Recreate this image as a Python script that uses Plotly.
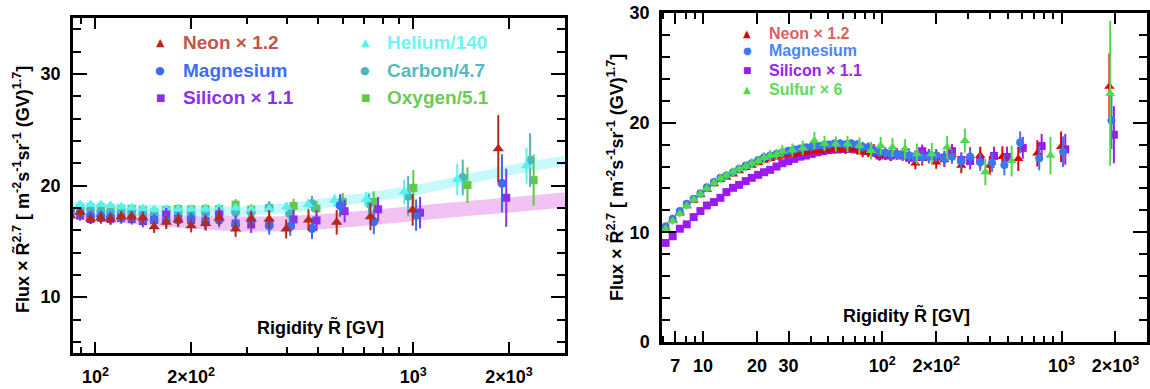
import plotly.graph_objects as go

# ---------------- data ----------------
# common rigidity bins (GV) for Ne / Mg / Si up to 352 GV
rig_common = [6.18, 6.77, 7.42, 8.11, 8.86, 9.67, 10.5, 11.5, 12.5, 13.5,
              14.7, 15.9, 17.3, 18.7, 20.3, 21.9, 23.7, 25.7, 27.7, 29.9,
              32.3, 34.8, 37.5, 40.4, 43.5, 46.8, 50.3, 54.1, 58.2, 62.5,
              67.2, 72.3, 77.7, 83.4, 89.5, 96.5, 104, 111.5, 120.5, 130,
              141, 153, 167, 182, 200, 222, 245, 276, 309, 352]
rig_ne_high = [398, 468, 574, 733, 995, 1850]
rig_mg_high = [410, 480, 588, 751, 1020, 1900]
rig_si_high = [420, 496, 608, 775, 1050, 1960]

neon = [10.4, 11.1, 11.8, 12.4, 12.9, 13.4, 13.9, 14.4, 14.8, 15.0,
        15.3, 15.6, 15.9, 16.1, 16.35, 16.55, 16.7, 16.85, 17.0, 17.1,
        17.15, 17.25, 17.3, 17.4, 17.45, 17.5, 17.55, 17.6, 17.6, 17.55,
        17.6, 17.5, 17.3, 17.3, 17.6, 17.0, 17.1, 17.0, 17.2, 17.2,
        17.1, 16.3, 16.7, 16.9, 16.4, 16.6, 17.1, 16.1, 17.0, 17.0,
        16.1, 16.9, 16.7, 17.2, 17.8, 23.3]
neon_err = [0.2, 0.2, 0.2, 0.2, 0.2, 0.2, 0.2, 0.2, 0.2, 0.2,
            0.2, 0.2, 0.25, 0.25, 0.25, 0.25, 0.25, 0.25, 0.3, 0.3,
            0.3, 0.3, 0.3, 0.3, 0.35, 0.35, 0.35, 0.35, 0.4, 0.4,
            0.4, 0.4, 0.45, 0.45, 0.45, 0.45, 0.5, 0.5, 0.5, 0.5,
            0.55, 0.55, 0.6, 0.6, 0.6, 0.65, 0.65, 0.7, 0.75, 0.8,
            0.85, 0.95, 1.1, 1.2, 1.4, 3.0]

magnesium = [10.55, 11.24, 11.94, 12.6, 13.06, 13.57, 14.12, 14.58, 14.97, 15.18,
             15.48, 15.79, 16.1, 16.3, 16.6, 16.85, 17.0, 17.15, 17.3, 17.45,
             17.55, 17.65, 17.75, 17.8, 17.9, 17.95, 18.0, 18.1, 18.1, 18.0,
             18.1, 18.0, 17.8, 17.75, 17.5, 17.3, 17.25, 17.15, 17.1, 17.1,
             17.0, 16.9, 16.85, 16.9, 17.0, 16.7, 16.9, 16.5, 16.9, 16.4,
             16.35, 16.15, 18.2, 16.75, 17.35, 20.2]
magnesium_err = [0.2, 0.2, 0.2, 0.2, 0.2, 0.2, 0.2, 0.2, 0.2, 0.2,
                 0.2, 0.2, 0.25, 0.25, 0.25, 0.25, 0.25, 0.25, 0.3, 0.3,
                 0.3, 0.3, 0.3, 0.3, 0.35, 0.35, 0.35, 0.35, 0.4, 0.4,
                 0.4, 0.4, 0.45, 0.45, 0.45, 0.45, 0.5, 0.5, 0.5, 0.5,
                 0.55, 0.55, 0.6, 0.6, 0.6, 0.65, 0.65, 0.7, 0.75, 0.8,
                 0.85, 0.95, 1.0, 1.1, 1.4, 2.6]

silicon = [9.03, 9.64, 10.33, 10.73, 11.39, 11.94, 12.45, 12.76, 13.15, 13.67,
           14.06, 14.33, 14.67, 14.97, 15.24, 15.48, 15.7, 16.0, 16.3, 16.48,
           16.7, 16.9, 17.0, 17.15, 17.3, 17.4, 17.5, 17.55, 17.6, 17.6,
           17.65, 17.55, 17.5, 17.4, 17.3, 17.0, 17.1, 17.0, 17.1, 17.0,
           16.8, 16.9, 17.4, 17.0, 16.9, 16.8, 17.4, 16.6, 16.5, 16.6,
           16.96, 16.87, 17.7, 17.87, 17.57, 18.9]
silicon_err = [0.2, 0.2, 0.2, 0.2, 0.2, 0.2, 0.2, 0.2, 0.2, 0.2,
               0.2, 0.2, 0.25, 0.25, 0.25, 0.25, 0.25, 0.25, 0.3, 0.3,
               0.3, 0.3, 0.3, 0.3, 0.35, 0.35, 0.35, 0.35, 0.4, 0.4,
               0.4, 0.4, 0.45, 0.45, 0.45, 0.45, 0.5, 0.5, 0.5, 0.5,
               0.55, 0.55, 0.6, 0.6, 0.6, 0.65, 0.65, 0.7, 0.75, 0.8,
               0.85, 0.95, 1.0, 1.1, 1.4, 2.6]

# sulfur (coarser binning above ~30 GV)
rig_sulfur = [6.18, 6.77, 7.42, 8.11, 8.86, 9.67, 10.5, 11.5, 12.5, 13.5,
              14.7, 15.9, 17.3, 18.7, 20.3, 21.9, 23.7, 25.7, 27.7, 31.5,
              36, 41.8, 47.6, 55, 64, 74.6, 86.5, 98, 114, 134,
              156, 189, 230, 289, 376, 527, 868, 1870]
sulfur = [10.3, 11.0, 11.7, 12.4, 13.0, 13.5, 14.0, 14.5, 14.9, 15.2,
          15.5, 15.8, 16.0, 16.3, 16.5, 16.8, 17.0, 17.1, 17.4, 17.5,
          17.7, 18.36, 18.1, 18.05, 18.05, 17.9, 17.45, 17.9, 17.75, 17.6,
          17.15, 17.15, 17.75, 18.36, 15.5, 16.5, 17.0, 22.67]
sulfur_err = [0.3, 0.3, 0.3, 0.3, 0.35, 0.35, 0.35, 0.35, 0.4, 0.4,
              0.4, 0.4, 0.45, 0.45, 0.45, 0.5, 0.5, 0.5, 0.55, 0.6,
              0.65, 0.8, 0.7, 0.7, 0.75, 0.75, 0.8, 0.8, 0.85, 0.9,
              0.95, 1.0, 1.05, 1.1, 1.2, 1.4, 1.7, 6.6]

# helium / carbon / oxygen (left panel only)
rig_heco_low = [89.5, 96.5, 104, 111.5, 120.5, 130, 141, 153, 167, 182,
                200, 222, 245, 276, 309, 352]
rig_he_high = [399, 467, 565, 711, 936, 1375, 2270]
rig_c_high = [408, 480, 590, 725, 963, 1430, 2330]
rig_o_high = [420, 496, 600, 750, 1000, 1480, 2390]

helium = [18.3, 18.3, 18.3, 18.2, 18.1, 18.0, 17.95, 17.85, 17.9, 17.9,
          17.9, 17.9, 18.0, 18.0, 17.84, 17.9, 18.08, 18.29, 18.68, 18.77,
          19.43, 20.54, 21.77]
helium_err = [0.2, 0.2, 0.2, 0.2, 0.2, 0.2, 0.2, 0.25, 0.25, 0.25,
              0.25, 0.3, 0.3, 0.3, 0.35, 0.4, 0.45, 0.5, 0.55, 0.65,
              1.1, 1.4, 1.6]
carbon = [17.9, 17.8, 17.7, 17.6, 17.6, 17.6, 17.5, 17.4, 17.5, 17.5,
          17.4, 17.5, 17.5, 17.6, 17.6, 18.0, 17.48, 18.38, 18.44, 18.38,
          19.04, 20.72, 22.27]
carbon_err = [0.3, 0.3, 0.3, 0.3, 0.3, 0.35, 0.35, 0.35, 0.4, 0.4,
              0.4, 0.45, 0.45, 0.5, 0.5, 0.55, 0.6, 0.7, 0.8, 0.9,
              1.8, 1.6, 2.4]
oxygen = [18.0, 18.0, 18.0, 17.9, 17.9, 17.9, 17.8, 17.6, 17.8, 17.9,
          17.87, 17.9, 17.9, 18.29, 17.84, 17.99, 18.17, 17.93, 18.53, 18.53,
          19.79, 20.03, 20.48]
oxygen_err = [0.3, 0.3, 0.3, 0.3, 0.3, 0.35, 0.35, 0.35, 0.4, 0.4,
              0.4, 0.45, 0.45, 0.5, 0.5, 0.6, 0.65, 0.7, 0.8, 0.95,
              1.6, 1.6, 2.3]

# fitted bands (left panel)
fit_rig = [85, 120, 170, 250, 300, 400, 600, 1000, 1500, 2000, 3000]
fit_he = [18.1, 17.95, 17.8, 17.7, 17.75, 18.0, 18.65, 19.55, 20.6, 21.35, 22.25]
fit_nemgsi = [17.7, 17.3, 16.95, 16.65, 16.55, 16.6, 16.9, 17.5, 17.95, 18.25, 18.7]

# tick labels
left_xticks = [100, 200, 1000, 2000]
left_xlabels = ["10<sup>2</sup>", "2×10<sup>2</sup>", "10<sup>3</sup>", "2×10<sup>3</sup>"]
left_xminor = [90, 300, 400, 500, 600, 700, 800, 900, 3000]
right_xticks = [7, 10, 20, 30, 100, 200, 1000, 2000]
right_xlabels = ["7", "10", "20", "30", "10<sup>2</sup>", "2×10<sup>2</sup>",
                 "10<sup>3</sup>", "2×10<sup>3</sup>"]
right_xminor = [6, 8, 9, 40, 50, 60, 70, 80, 90, 300, 400, 500, 600, 700, 800, 900, 3000]

# ---------------- figure ----------------
FONT = "Liberation Sans, Arial, Helvetica, sans-serif"
W, H = 1150, 389

rig_ne = rig_common + rig_ne_high
rig_mg = rig_common + rig_mg_high
rig_si = rig_common + rig_si_high
rig_he = rig_heco_low + rig_he_high
rig_c = rig_heco_low + rig_c_high
rig_o = rig_heco_low + rig_o_high

fig = go.Figure()


def pts(x, y, err, color, symbol, size, xa, ya):
    return go.Scatter(
        x=x, y=y, mode="markers", xaxis=xa, yaxis=ya, showlegend=False,
        marker=dict(color=color, symbol=symbol, size=size, line=dict(width=0)),
        error_y=dict(type="data", array=err, width=0, thickness=2, color=color),
        hoverinfo="skip",
    )


# left panel: bands
fig.add_trace(go.Scatter(x=fit_rig, y=fit_nemgsi, mode="lines", xaxis="x", yaxis="y",
                         line=dict(color="#f2c2f4", width=15, shape="spline"),
                         showlegend=False, hoverinfo="skip"))
fig.add_trace(go.Scatter(x=fit_rig, y=fit_he, mode="lines", xaxis="x", yaxis="y",
                         line=dict(color="#c6fafa", width=10, shape="spline"),
                         showlegend=False, hoverinfo="skip"))

# left panel: points
fig.add_trace(pts(rig_o, oxygen, oxygen_err, "#62c84a", "square", 8, "x", "y"))
fig.add_trace(pts(rig_c, carbon, carbon_err, "#48b8bc", "circle", 9, "x", "y"))
fig.add_trace(pts(rig_he, helium, helium_err, "#5cf0f0", "triangle-up", 10, "x", "y"))
fig.add_trace(pts(rig_si, silicon, silicon_err, "#8b2fe8", "square", 8, "x", "y"))
fig.add_trace(pts(rig_mg, magnesium, magnesium_err, "#3b6cf2", "circle", 9, "x", "y"))
fig.add_trace(pts(rig_ne, neon, neon_err, "#b8281a", "triangle-up", 10, "x", "y"))

# right panel: points
fig.add_trace(pts(rig_si, silicon, silicon_err, "#9a1af0", "square", 8, "x2", "y2"))
fig.add_trace(pts(rig_ne, neon, neon_err, "#e00000", "triangle-up", 9, "x2", "y2"))
fig.add_trace(pts(rig_mg, magnesium, magnesium_err, "#3b78f0", "circle", 8, "x2", "y2"))
fig.add_trace(pts(rig_sulfur, sulfur, sulfur_err, "#50d850", "triangle-up", 9, "x2", "y2"))


def xaxis_style(domain, rng, tv, tt, minor_vals, anchor):
    return dict(
        type="log", domain=domain, range=rng, anchor=anchor,
        showline=True, linecolor="black", linewidth=2.5, mirror="ticks",
        ticks="inside", ticklen=11, tickwidth=2, tickcolor="black",
        tickvals=tv, ticktext=tt, ticklabelstandoff=6,
        tickfont=dict(family=FONT, size=18, color="black", weight="bold"),
        minor=dict(tickvals=minor_vals, ticks="inside", ticklen=6, tickwidth=2,
                   tickcolor="black", showgrid=False),
        showgrid=False, zeroline=False, automargin=False, fixedrange=True,
    )


def yaxis_style(domain, rng, tv, anchor):
    return dict(
        domain=domain, range=rng, anchor=anchor,
        showline=True, linecolor="black", linewidth=2.5, mirror="ticks",
        ticks="inside", ticklen=14, tickwidth=2, tickcolor="black",
        tickvals=tv, ticktext=[str(v) for v in tv], ticklabelstandoff=6,
        tickfont=dict(family=FONT, size=18, color="black", weight="bold"),
        minor=dict(dtick=2, ticks="inside", ticklen=8, tickwidth=2,
                   tickcolor="black", showgrid=False),
        showgrid=False, zeroline=False, automargin=False, fixedrange=True,
    )


lx0, lx1, ly0, ly1 = 73, 565, 18, 353
rx0, rx1, ry0, ry1 = 662, 1147, 13, 342

fig.update_layout(
    width=W, height=H, margin=dict(l=0, r=0, t=0, b=0),
    paper_bgcolor="white", plot_bgcolor="white", showlegend=False,
    xaxis=xaxis_style([lx0 / W, lx1 / W], [1.9294, 3.4771], left_xticks, left_xlabels,
                      left_xminor, "y"),
    yaxis=yaxis_style([1 - ly1 / H, 1 - ly0 / H], [5, 35], [10, 20, 30], "x"),
    xaxis2=xaxis_style([rx0 / W, rx1 / W], [0.7709, 3.4771], right_xticks, right_xlabels,
                       right_xminor, "y2"),
    yaxis2=yaxis_style([1 - ry1 / H, 1 - ry0 / H], [0, 30], [0, 10, 20, 30], "x2"),
)

ytitle = ("Flux × R\u0303<sup>2.7</sup> [ m<sup>-2</sup>s<sup>-1</sup>sr<sup>-1</sup> "
          "(GV)<sup>1.7</sup>]")
xtitle = "Rigidity R\u0303 [GV]"

annotations = [
    dict(text=ytitle, x=22 / W, y=1 - 190 / H, textangle=-90),
    dict(text=ytitle, x=616 / W, y=1 - 177 / H, textangle=-90),
]
for a in annotations:
    a.update(xref="paper", yref="paper", showarrow=False, xanchor="center", yanchor="middle",
             font=dict(family=FONT, size=18, color="black", weight="bold"))

annotations += [
    dict(text=xtitle, x=320 / W, y=1 - 327 / H, xref="paper", yref="paper", showarrow=False,
         xanchor="center", yanchor="middle",
         font=dict(family=FONT, size=18, color="black", weight="bold")),
    dict(text=xtitle, x=906 / W, y=1 - 315 / H, xref="paper", yref="paper", showarrow=False,
         xanchor="center", yanchor="middle",
         font=dict(family=FONT, size=18, color="black", weight="bold")),
]

# legends (symbol glyph + label)
legend_items = [
    # (symbol, symbol color, label, label color, marker x, text x, y, font size, symbol size)
    ("▲", "#b8281a", "Neon × 1.2", "#c4554a", 160, 181, 43, 19, 11),
    ("●", "#3b6cf2", "Magnesium", "#3d6ef5", 160, 181, 70, 19, 11),
    ("■", "#8b2fe8", "Silicon × 1.1", "#8c30f0", 160, 181, 97, 19, 10),
    ("▲", "#5cf0f0", "Helium/140", "#6ef4f4", 365, 385, 43, 19, 11),
    ("●", "#48b8bc", "Carbon/4.7", "#52bcbc", 365, 385, 70, 19, 11),
    ("■", "#62c84a", "Oxygen/5.1", "#6acc50", 365, 385, 97, 19, 10),
    ("▲", "#e00000", "Neon × 1.2", "#e06060", 747, 767, 33, 16, 10),
    ("●", "#3b78f0", "Magnesium", "#4a86f0", 747, 767, 51, 16, 10),
    ("■", "#9a1af0", "Silicon × 1.1", "#9a22ee", 747, 767, 70, 16, 9),
    ("▲", "#50d850", "Sulfur × 6", "#60dc58", 747, 767, 89, 16, 10),
]
for sym, scol, lab, lcol, mx, tx, yy, fs, ss in legend_items:
    annotations.append(dict(text=sym, x=mx / W, y=1 - yy / H, xref="paper", yref="paper",
                            showarrow=False, xanchor="center", yanchor="middle",
                            font=dict(family="DejaVu Sans", size=ss, color=scol)))
    annotations.append(dict(text=lab, x=tx / W, y=1 - yy / H, xref="paper", yref="paper",
                            showarrow=False, xanchor="left", yanchor="middle",
                            font=dict(family=FONT, size=fs, color=lcol, weight="bold")))

fig.update_layout(annotations=annotations)

fig.write_html("out.html",
               config={"displayModeBar": False},
               post_script="document.body.style.margin='0px';"
                           "document.body.style.overflow='hidden';")
